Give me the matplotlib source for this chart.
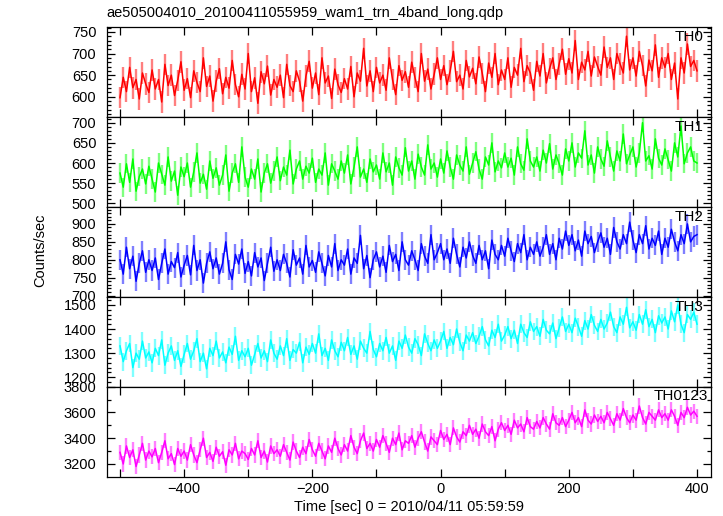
import matplotlib
matplotlib.use("Agg")
import matplotlib.pyplot as plt
from matplotlib.ticker import MultipleLocator, FuncFormatter
import numpy as np

plt.rcParams['font.family'] = ['Liberation Sans', 'DejaVu Sans']

title = "ae505004010_20100411055959_wam1_trn_4band_long.qdp"
xlabel = "Time [sec] 0 = 2010/04/11 05:59:59"
ylabel = "Counts/sec"
labels = ["TH0", "TH1", "TH2", "TH3", "TH0123"]
colors = ["#ff0000", "#00ff00", "#0000ff", "#00ffff", "#ff00ff"]

t_start, t_step = -500, 5  # seconds

th0 = [598, 645, 612, 668, 621, 640, 595, 655, 630, 610,
       662, 618, 640, 588, 675, 626, 650, 603, 638, 681,
       615, 642, 598, 660, 633, 612, 690, 624, 648, 590,
       636, 665, 607, 645, 620, 684, 628, 600, 652, 618,
       700, 612, 644, 585, 658, 630, 671, 604, 640, 622,
       650, 598, 675, 626, 612, 660, 636, 590, 648, 682,
       620, 655, 605, 690, 632, 648, 596, 664, 628, 610,
       642, 618, 670, 600, 655, 636, 712, 625, 660, 612,
       668, 632, 650, 615, 690, 640, 605, 672, 638, 658,
       622, 680, 645, 612, 700, 636, 664, 618, 652, 690,
       640, 672, 628, 660, 705, 635, 650, 618, 684, 646,
       666, 630, 692, 654, 612, 678, 645, 700, 628, 662,
       640, 690, 622, 668, 650, 712, 635, 672, 655, 615,
       682, 648, 700, 632, 665, 690, 640, 676, 710, 652,
       688, 655, 730, 640, 680, 662, 705, 648, 692, 670,
       650, 715, 668, 690, 640, 700, 676, 655, 740, 662,
       690, 648, 705, 672, 625, 685, 660, 720, 645, 690,
       668, 700, 640, 678, 595, 690, 655, 722, 670, 684,
       660]

th1 = [575, 540, 598, 552, 610, 530, 566, 585, 548, 592,
       560, 528, 600, 572, 545, 615, 555, 580, 520, 590,
       566, 600, 540, 578, 625, 550, 572, 535, 605, 562,
       588, 545, 570, 620, 530, 575, 598, 552, 640, 565,
       540, 585, 560, 610, 528, 575, 598, 550, 580, 615,
       556, 590, 570, 632, 548, 585, 605, 560, 592, 575,
       612, 552, 585, 570, 625, 545, 598, 580, 560, 605,
       575, 620, 548, 590, 640, 565, 585, 552, 610, 578,
       595, 560, 625, 578, 600, 545, 615, 588, 570, 638,
       580, 605, 560, 622, 590, 570, 645, 585, 600, 565,
       610, 575, 630, 590, 560, 620, 595, 580, 640, 572,
       600, 628, 585, 560, 615, 595, 650, 578, 605, 588,
       625, 590, 612, 570, 640, 598, 582, 660, 605, 590,
       615, 580, 632, 600, 648, 585, 620, 598, 570, 635,
       605, 650, 590, 625, 612, 680, 595, 620, 575, 640,
       610, 592, 655, 615, 580, 630, 605, 672, 598, 620,
       640, 590, 625, 700, 605, 618, 585, 660, 612, 595,
       635, 608, 580, 650, 615, 692, 598, 625, 640, 605,
       600]

th2 = [800, 760, 835, 775, 810, 740, 790, 825, 765, 800,
       770, 805, 745, 790, 830, 760, 795, 778, 820, 752,
       785, 812, 758, 840, 770, 800, 735, 790, 822, 775,
       805, 760, 790, 850, 772, 745, 815, 788, 830, 762,
       795, 755, 820, 780, 805, 742, 790, 835, 768, 800,
       770, 815, 790, 752, 828, 785, 805, 760, 840, 780,
       798, 765, 822, 790, 755, 812, 780, 845, 770, 800,
       785, 830, 760, 805, 790, 868, 775, 812, 750, 800,
       822, 780, 810, 765, 840, 795, 815, 770, 850, 800,
       785, 825, 800, 770, 845, 810, 790, 870, 800, 820,
       845, 800, 830, 790, 860, 815, 780, 835, 805, 850,
       812, 790, 840, 800, 825, 775, 855, 815, 800, 840,
       810, 860, 825, 795, 845, 820, 870, 800, 835, 815,
       850, 810, 835, 870, 815, 845, 800, 860, 830, 880,
       840, 870, 825, 855, 810, 880, 845, 865, 820, 850,
       875, 835, 860, 815, 890, 850, 830, 870, 845, 905,
       855, 820, 870, 845, 895, 830, 860, 840, 880, 815,
       860, 835, 885, 850, 825, 870, 845, 900, 850, 865,
       870]

th3 = [1330, 1265, 1310, 1340, 1240, 1300, 1275, 1350, 1280, 1305,
       1260, 1320, 1290, 1355, 1250, 1300, 1330, 1270, 1310, 1245,
       1295, 1340, 1275, 1310, 1360, 1265, 1300, 1235, 1320, 1290,
       1350, 1280, 1305, 1260, 1325, 1295, 1370, 1270, 1310, 1285,
       1320, 1250, 1295, 1340, 1280, 1310, 1265, 1355, 1300, 1275,
       1330, 1290, 1360, 1270, 1315, 1300, 1345, 1260, 1325, 1295,
       1340, 1300, 1380, 1290, 1320, 1270, 1355, 1310, 1285, 1345,
       1310, 1365, 1295, 1330, 1275, 1350, 1320, 1300, 1390, 1315,
       1285, 1340, 1310, 1365, 1300, 1330, 1270, 1350, 1320, 1375,
       1325, 1300, 1360, 1335, 1290, 1380, 1340, 1310, 1355, 1320,
       1350, 1390, 1320, 1365, 1335, 1400, 1345, 1310, 1375, 1350,
       1385, 1340, 1370, 1410, 1355, 1330, 1395, 1365, 1420, 1350,
       1375, 1410, 1360, 1395, 1340, 1420, 1385, 1365, 1430, 1390,
       1410, 1370, 1440, 1395, 1380, 1425, 1360, 1405, 1450, 1390,
       1420, 1385, 1445, 1410, 1370, 1435, 1400, 1460, 1415, 1390,
       1440, 1400, 1425, 1470, 1410, 1385, 1450, 1420, 1490, 1405,
       1430, 1395, 1460, 1420, 1480, 1410, 1440, 1385, 1455, 1425,
       1450, 1400, 1475, 1430, 1500, 1420, 1385, 1460, 1440, 1470,
       1420]

th0123 = [3290, 3200, 3340, 3250, 3310, 3180, 3270, 3360, 3230, 3300,
          3255, 3320, 3210, 3290, 3380, 3240, 3280, 3195, 3320, 3260,
          3300, 3230, 3350, 3270, 3210, 3310, 3400, 3250, 3290, 3220,
          3330, 3260, 3295, 3190, 3310, 3270, 3360, 3240, 3300, 3280,
          3235, 3320, 3270, 3380, 3250, 3300, 3215, 3340, 3280, 3310,
          3260, 3350, 3290, 3230, 3370, 3300, 3250, 3330, 3280, 3390,
          3310, 3260, 3360, 3300, 3240, 3340, 3290, 3400, 3320, 3270,
          3350, 3300, 3420, 3330, 3280, 3380, 3440, 3320, 3360, 3300,
          3390, 3330, 3420, 3360, 3290, 3400, 3350, 3440, 3310, 3380,
          3360, 3420, 3330, 3400, 3450, 3370, 3300, 3410, 3380, 3350,
          3460, 3390, 3430, 3350, 3480, 3410, 3370, 3450, 3420, 3500,
          3430, 3470, 3400, 3510, 3450, 3420, 3490, 3380, 3470, 3520,
          3460, 3500, 3430, 3540, 3480, 3510, 3450, 3560, 3490, 3470,
          3530, 3480, 3560, 3510, 3470, 3590, 3520, 3500, 3560, 3490,
          3540, 3600, 3520, 3560, 3490, 3620, 3540, 3510, 3580, 3530,
          3570, 3520, 3600, 3550, 3500, 3590, 3540, 3630, 3560, 3520,
          3580, 3540, 3650, 3560, 3510, 3600, 3570, 3540, 3620, 3560,
          3590, 3540, 3620, 3570, 3500, 3600, 3560, 3640, 3580, 3610,
          3570]

series = [th0, th1, th2, th3, th0123]
errors = [25, 24, 28, 37, 59]
ylims = [(554, 762), (491.5, 715), (697, 948), (1161, 1534), (3101, 3800)]
ymajor = [50, 50, 50, 100, 200]
yminor = [10, 10, 10, 20, 100]
label_pos = [(0.987, 0.886), (0.987, 0.886), (0.987, 0.886),
             (0.987, 0.886), (0.995, 0.897)]

W, H = 723, 516
fig = plt.figure(figsize=(W / 100, H / 100), dpi=100)

left = 106.7 / W
width = (711 - 106.7) / W
top_px = 26.7
ph = 90.0

for i, (vals, err, lab, col) in enumerate(zip(series, errors, labels, colors)):
    y0 = top_px + i * ph
    ax = fig.add_axes([left, 1 - (y0 + ph) / H, width, ph / H])
    t = np.arange(len(vals)) * t_step + t_start
    ax.errorbar(t, vals, yerr=err, fmt='none', ecolor=col, alpha=0.5,
                elinewidth=1.7, capsize=0)
    ax.plot(t, vals, color=col, lw=1.1)
    ax.set_xlim(-520.8, 421.8)
    ax.set_ylim(*ylims[i])
    ax.xaxis.set_major_locator(MultipleLocator(100))
    ax.yaxis.set_major_locator(MultipleLocator(ymajor[i]))
    ax.yaxis.set_minor_locator(MultipleLocator(yminor[i]))
    ax.tick_params(which='both', direction='in', top=True, right=True,
                   labelsize=10.5, width=0.9)
    ax.tick_params(axis='y', pad=7.5)
    ax.tick_params(axis='x', pad=4)
    ax.tick_params(which='major', length=6)
    ax.tick_params(which='minor', length=3)
    if i < 4:
        ax.tick_params(labelbottom=False)
    else:
        ax.xaxis.set_major_formatter(
            FuncFormatter(lambda v, p: ("\u2212%d" % -v if v < 0 else "%d" % v)
                          if int(round(v)) % 200 == 0 else ""))
    for s in ax.spines.values():
        s.set_linewidth(0.9)
    lx, ly = label_pos[i]
    ax.text(lx, ly, lab, transform=ax.transAxes, ha='right',
            va='center', fontsize=11)

fig.text(left, 1 - 13.5 / H, title, ha='left', va='center', fontsize=10.5)
fig.text(40 / W, 1 - 250 / H, ylabel, rotation=90, ha='center', va='center',
         fontsize=10.5)
fig.text(409 / W, 1 - 507 / H, xlabel, ha='center', va='center', fontsize=10.5)

fig.savefig("out.png", dpi=100)
